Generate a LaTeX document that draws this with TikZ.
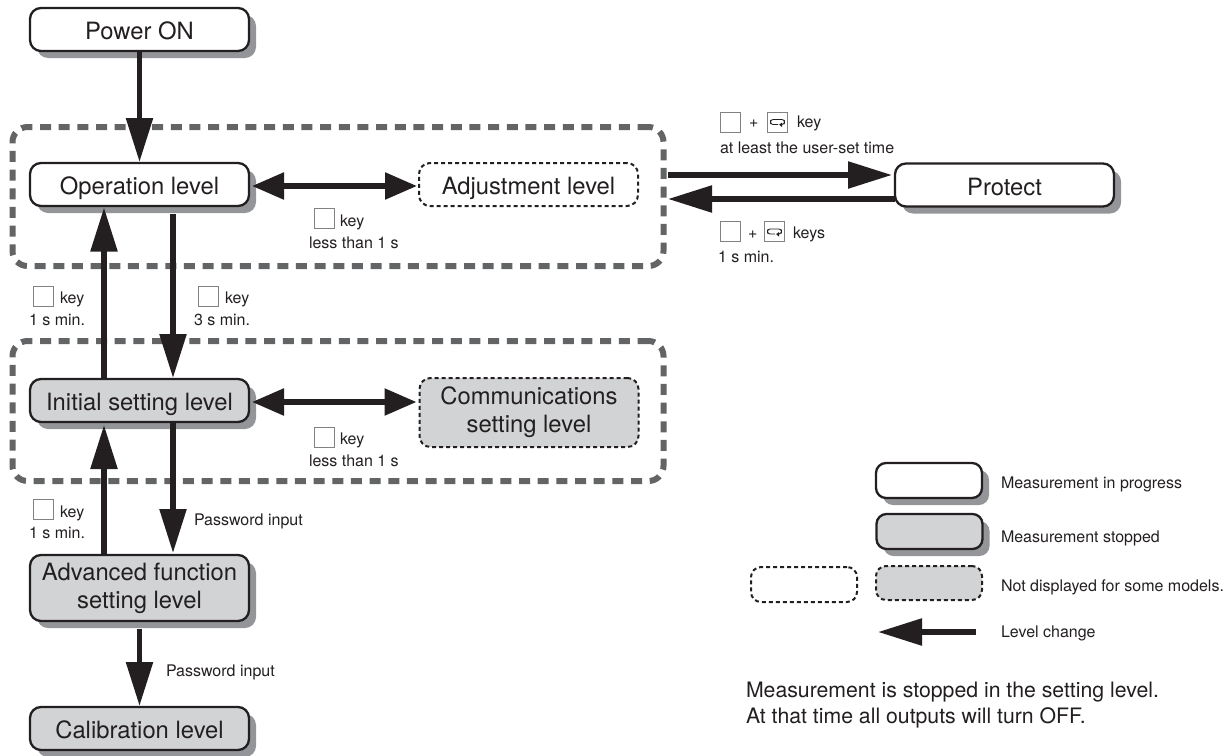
\documentclass[tikz,border=0pt]{standalone}
\usepackage{fontspec}
\setmainfont{TeX Gyre Heros}
\usetikzlibrary{arrows.meta,shadows,calc}
\definecolor{ink}{HTML}{231F20}
\definecolor{shade}{HTML}{939598}
\definecolor{stopfill}{HTML}{D1D3D4}
\definecolor{groupline}{HTML}{636466}
\definecolor{keyline}{HTML}{808285}
\tikzset{
  lvl/.style={draw=ink,line width=2.3pt,rounded corners=11pt,inner sep=0pt,outer sep=0pt,
    minimum width=219pt,minimum height=43pt,align=center,text=ink,
    font=\fontsize{23.8}{28}\selectfont},
  oneline/.style={text height=20pt,text depth=0pt},
  withshadow/.style={drop shadow={shadow xshift=7pt,shadow yshift=-7pt,fill=shade,opacity=1}},
  stopped/.style={fill=stopfill},
  running/.style={fill=white},
  maybe/.style={dash pattern=on 4pt off 3pt,line width=2pt},
  grp/.style={draw=groupline,line width=6pt,dash pattern=on 11pt off 7.67pt,rounded corners=15pt,
    inner sep=0pt,outer sep=0pt,minimum width=651pt},
  flow/.style={draw=ink,line width=5.5pt,-{Triangle[length=44pt,width=26pt]}},
  both/.style={draw=ink,line width=5.5pt,{Triangle[length=32pt,width=26pt]}-{Triangle[length=32pt,width=26pt]}},
  keybox/.style={draw=keyline,line width=0.8pt,fill=white,minimum width=20pt,minimum height=20pt,inner sep=0pt,outer sep=0pt},
  lab/.style={anchor=base west,inner sep=0pt,outer sep=0pt,text=ink,font=\fontsize{16}{19}\selectfont},
  note/.style={anchor=base west,inner sep=0pt,outer sep=0pt,text=ink,font=\fontsize{21.25}{26}\selectfont},
}
\newcommand{\retglyph}[1]{%
  \draw[ink,line width=0.9pt,rounded corners=2.6pt]
    ($(#1)+(3.5,2.5)$) -- ($(#1)+(7,2.5)$) -- ($(#1)+(7,-2.5)$) -- ($(#1)+(-7,-2.5)$) -- ($(#1)+(-7,2.5)$) -- ($(#1)+(0.5,2.5)$);
  \fill[ink] ($(#1)+(4.6,0.5)$) -- ($(#1)+(4.6,5.2)$) -- ($(#1)+(1.6,2.6)$) -- cycle;
}
\begin{document}
\begin{tikzpicture}[x=1pt,y=-1pt]
\useasboundingbox (0,0) rectangle (1226,755);

% groups
\node[grp,minimum height=139pt] (g1) at (338,196.5) {};
\node[grp,minimum height=140pt] (g2) at (338,411) {};

% levels
\node[lvl,oneline,running,withshadow] (power) at (139.5,29.5) {Power ON};
\node[lvl,oneline,running,withshadow] (op) at (139.5,184.5) {Operation level};
\node[lvl,oneline,stopped,withshadow] (init) at (139.5,400.5) {Initial setting level};
\node[lvl,stopped,withshadow,minimum height=66pt] (adv) at (139.5,588) {\raisebox{-3pt}{Advanced function}\\\raisebox{-3pt}{setting level}};
\node[lvl,oneline,stopped,withshadow] (cal) at (139.5,728.5) {Calibration level};
\node[lvl,oneline,running,maybe] (adj) at (528.5,184.5) {Adjustment level};
\node[lvl,stopped,maybe,minimum height=69pt] (comm) at (529,412.5) {\raisebox{-3pt}{Communications}\\\raisebox{-3pt}{setting level}};
\node[lvl,oneline,running,withshadow] (prot) at (1004.5,185) {Protect};

% helper guides
\coordinate (xup) at (104,0);
\coordinate (xdn) at (173,0);
\coordinate (ya) at (0,186);
\coordinate (yb) at (0,402);
\coordinate (yp) at (0,175);
\coordinate (yq) at (0,199);

% connectors
\draw[flow,shorten >=1pt] (power.south) -- (op.north);
\draw[flow,shorten >=1.5pt] (init.north -| xup) -- (op.south -| xup);
\draw[flow,shorten <=8pt,shorten >=1pt] (op.south -| xdn) -- (init.north -| xdn);
\draw[flow,shorten >=3pt] (adv.north -| xup) -- (init.south -| xup);
\draw[flow,shorten >=2pt] (init.south -| xdn) -- (adv.north -| xdn);
\draw[flow,shorten <=8pt,shorten >=1pt] (adv.south) -- (cal.north);
\draw[both,shorten <=3pt,shorten >=2pt] (op.east |- ya) -- (adj.west |- ya);
\draw[both,shorten <=3pt,shorten >=3pt] (init.east |- yb) -- (comm.west |- yb);
\draw[flow,shorten <=4.5pt,shorten >=3pt] (g1.east |- yp) -- (prot.west |- yp);
\draw[flow,shorten >=4.5pt] (prot.west |- yq) -- (g1.east |- yq);

% key labels
\node[keybox] (k1) at (730.5,122) {};
\node[lab] (t1) at (749,127) {+};
\node[keybox] (k2) at (777.5,122) {};
\retglyph{k2}
\node[lab] (t2) at (797,127) {key};
\node[lab] (t3) at (720,153) {at least the user-set time};

\node[keybox] (k3) at (730.5,231.5) {};
\node[lab] (t4) at (748,238) {+};
\node[keybox] (k4) at (774.5,231.5) {};
\retglyph{k4}
\node[lab] (t5) at (793,238) {keys};
\node[lab] (t6) at (718,262) {1 s min.};

\node[keybox] (k5) at (324.5,218.5) {};
\node[lab] (t7) at (340,226) {key};
\node[lab] (t8) at (309,248) {less than 1 s};

\node[keybox] (k6) at (43.5,296) {};
\node[lab] (t9) at (60,303) {key};
\node[lab] (t10) at (29,325) {1 s min.};

\node[keybox] (k7) at (208.5,296) {};
\node[lab] (t11) at (225,303) {key};
\node[lab] (t12) at (194,325) {3 s min.};

\node[keybox] (k8) at (324.5,437) {};
\node[lab] (t13) at (340,444) {key};
\node[lab] (t14) at (309,466) {less than 1 s};

\node[keybox] (k9) at (43.5,509) {};
\node[lab] (t15) at (60,517) {key};
\node[lab] (t16) at (29,538) {1 s min.};

\node[lab] (t17) at (194,525) {Password input};
\node[lab] (t18) at (166,676) {Password input};

% legend
\node[lvl,running,withshadow,minimum width=106pt,minimum height=35pt,rounded corners=10pt] (l1) at (929,480.5) {};
\node[lvl,stopped,withshadow,minimum width=106pt,minimum height=35pt,rounded corners=10pt] (l2) at (929.5,531.5) {};
\node[lvl,running,maybe,minimum width=106pt,minimum height=35pt,rounded corners=10pt] (l3) at (804,584.5) {};
\node[lvl,stopped,maybe,minimum width=106pt,minimum height=34pt,rounded corners=10pt] (l4) at (929,583) {};
\coordinate (lt) at (878,632);
\coordinate (lf) at (976,632);
\draw[flow] (lf) -- (lt);
\node[lab] (n1) at (1001,488.5) {Measurement in progress};
\node[lab] (n2) at (1001,542) {Measurement stopped};
\node[lab] (n3) at (1001,591.5) {Not displayed for some models.};
\node[lab] (n4) at (1001,637) {Level change};
\node[note] (n5) at (746,697) {Measurement is stopped in the setting level.};
\node[note] (n6) at (746,723) {At that time all outputs will turn OFF.};
\end{tikzpicture}
\end{document}
